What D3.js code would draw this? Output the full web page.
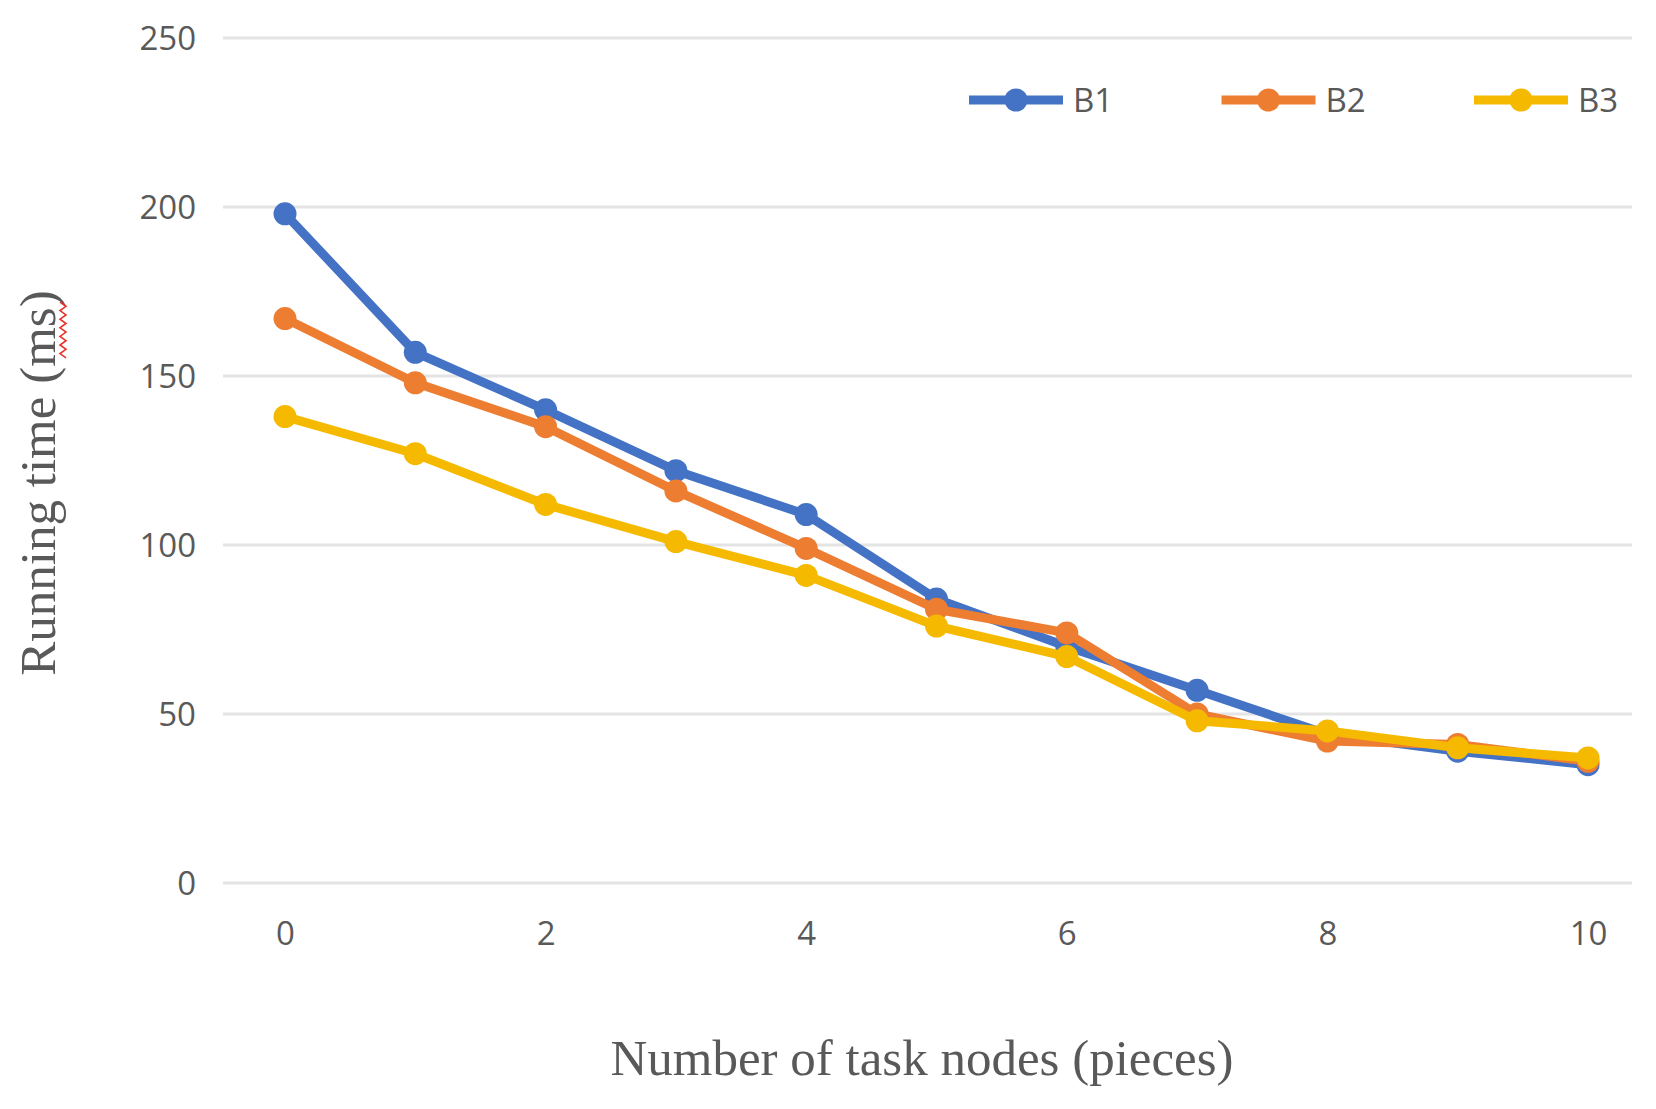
<!DOCTYPE html>
<html>
<head>
<meta charset="utf-8">
<script src="https://cdn.jsdelivr.net/npm/d3@7"></script>
<style>
  html, body { margin: 0; padding: 0; background: #fff; }
  svg { display: block; }
</style>
</head>
<body>
<svg id="chart" width="1656" height="1109"></svg>
<script>
// ---- data ----
const xValues = [0, 1, 2, 3, 4, 5, 6, 7, 8, 9, 10];
const seriesNames = ["B1", "B2", "B3"];
const b1 = [198, 157, 140, 122, 109, 84, 70, 57, 44, 39, 35];
const b2 = [167, 148, 135, 116, 99, 81, 74, 50, 42, 41, 36];
const b3 = [138, 127, 112, 101, 91, 76, 67, 48, 45, 40, 37];
const xTicks = [0, 2, 4, 6, 8, 10];
const yTicks = [0, 50, 100, 150, 200, 250];
const xTitle = "Number of task nodes (pieces)";
const yTitle = "Running time (ms)";

const colors = ["#4472C4", "#ED7D31", "#F5BA00"];
const seriesValues = [b1, b2, b3];

const svg = d3.select("#chart");
svg.append("rect").attr("width", 1656).attr("height", 1109).attr("fill", "#fff");

const x = d3.scaleLinear().domain([0, 10]).range([285, 1588]);
const y = d3.scaleLinear().domain([0, 250]).range([883, 38]);
const gridLeft = 223, gridRight = 1632;

const textColor = "#595959";
const sansFont = "'Open Sans', 'Liberation Sans', sans-serif";
const serifFont = "'Liberation Serif', 'DejaVu Serif', serif";

// gridlines
svg.append("g").selectAll("line").data(yTicks).join("line")
  .attr("x1", gridLeft).attr("x2", gridRight)
  .attr("y1", d => y(d)).attr("y2", d => y(d))
  .attr("stroke", "#e4e4e4").attr("stroke-width", 3);

// y axis (labels only)
const yAxis = d3.axisLeft(y).tickValues(yTicks).tickSize(0).tickPadding(0);
const gy = svg.append("g").attr("transform", "translate(196,0)").call(yAxis);
gy.select(".domain").remove();
gy.selectAll("text")
  .attr("fill", textColor).style("font-family", sansFont).style("font-size", "33px")
  .attr("dy", "0.36em");

// x axis (labels only)
const xAxis = d3.axisBottom(x).tickValues(xTicks).tickSize(0).tickPadding(0);
const gx = svg.append("g").attr("transform", "translate(0,945)").call(xAxis);
gx.select(".domain").remove();
gx.selectAll("text")
  .attr("fill", textColor).style("font-family", sansFont).style("font-size", "33px")
  .attr("dy", "0");

// axis titles
svg.append("text")
  .attr("x", 922).attr("y", 1075)
  .attr("text-anchor", "middle")
  .attr("fill", textColor).style("font-family", serifFont).style("font-size", "51px")
  .text(xTitle);

svg.append("text")
  .attr("transform", "translate(55,483) rotate(-90)")
  .attr("text-anchor", "middle")
  .attr("fill", textColor).style("font-family", serifFont).style("font-size", "51px")
  .text(yTitle);

// spell-check squiggle under "ms"
const sq = d3.range(0, 14).map(i => [i % 2 === 0 ? 60 : 66, 302 + i * 4.3]);
svg.append("path")
  .attr("d", d3.line()(sq))
  .attr("fill", "none").attr("stroke", "#e8322a").attr("stroke-width", 1.6);

// lines and markers
const line = d3.line().x((d, i) => x(xValues[i])).y(d => y(d));
seriesValues.forEach((vals, s) => {
  const g = svg.append("g");
  g.append("path")
    .attr("d", line(vals))
    .attr("fill", "none")
    .attr("stroke", colors[s])
    .attr("stroke-width", 9)
    .attr("stroke-linejoin", "round");
  g.selectAll("circle").data(vals).join("circle")
    .attr("cx", (d, i) => x(xValues[i]))
    .attr("cy", d => y(d))
    .attr("r", 11.5)
    .attr("fill", colors[s]);
});

// legend
const legendStart = 969, legendStep = 252.5, legendY = 100, legendLen = 94;
const lg = svg.append("g");
seriesNames.forEach((name, i) => {
  const lx = legendStart + i * legendStep;
  lg.append("line")
    .attr("x1", lx).attr("x2", lx + legendLen)
    .attr("y1", legendY).attr("y2", legendY)
    .attr("stroke", colors[i]).attr("stroke-width", 9);
  lg.append("circle")
    .attr("cx", lx + legendLen / 2).attr("cy", legendY).attr("r", 11.5)
    .attr("fill", colors[i]);
  lg.append("text")
    .attr("x", lx + legendLen + 10).attr("y", legendY + 12)
    .attr("fill", textColor).style("font-family", sansFont).style("font-size", "33px")
    .text(name);
});
</script>
</body>
</html>
